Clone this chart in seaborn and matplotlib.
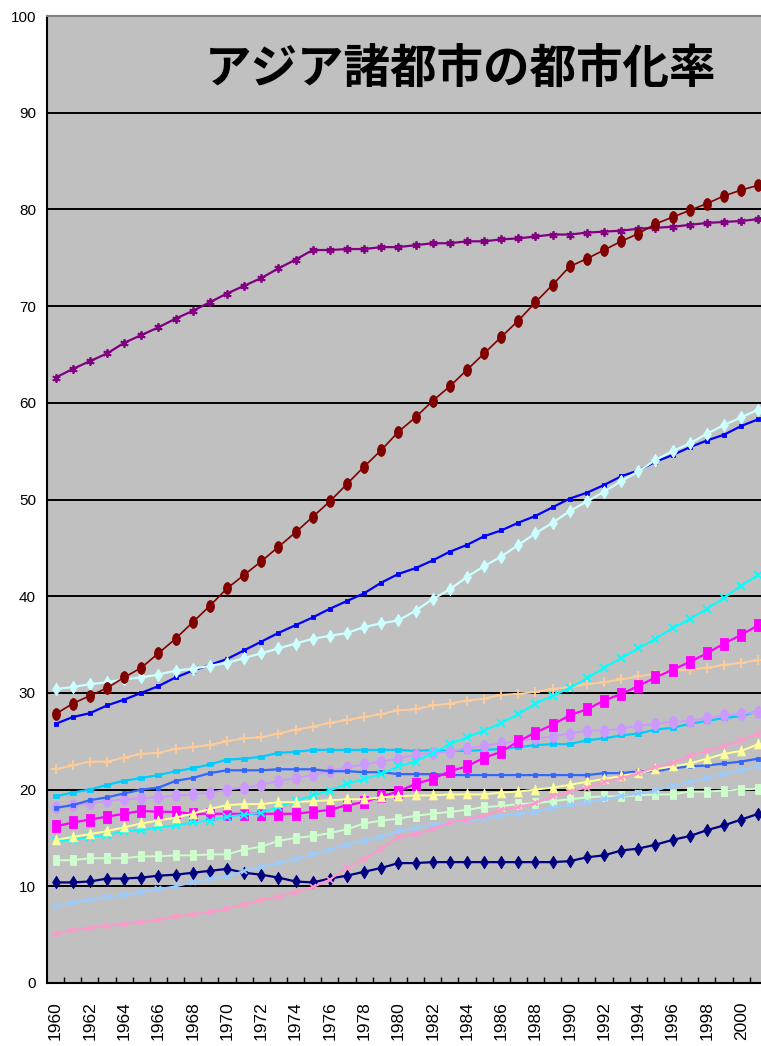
import matplotlib
matplotlib.use("Agg")
import matplotlib.pyplot as plt
from matplotlib.path import Path
from matplotlib.ticker import FixedLocator
import seaborn as sns

# ---- data: urbanisation rate (%) 1960-2001 ----
years = list(range(1960, 2002))

purple = [62.6, 63.5, 64.3, 65.1, 66.2, 67.0, 67.8, 68.7, 69.5, 70.4, 71.3, 72.1, 72.9, 73.9,
          74.8, 75.8, 75.8, 75.9, 75.9, 76.1, 76.1, 76.3, 76.5, 76.5, 76.7, 76.7, 76.9, 77.0,
          77.2, 77.4, 77.4, 77.6, 77.7, 77.8, 78.0, 78.1, 78.2, 78.4, 78.6, 78.7, 78.8, 79.0]
darkred = [27.8, 28.9, 29.7, 30.5, 31.6, 32.6, 34.1, 35.6, 37.3, 39.0, 40.8, 42.2, 43.6, 45.1,
           46.6, 48.2, 49.8, 51.6, 53.4, 55.1, 57.0, 58.5, 60.2, 61.7, 63.4, 65.1, 66.8, 68.5,
           70.4, 72.2, 74.1, 74.9, 75.8, 76.7, 77.5, 78.5, 79.2, 79.9, 80.6, 81.4, 82.0, 82.5]
blue = [26.8, 27.5, 27.9, 28.7, 29.3, 30.0, 30.7, 31.6, 32.3, 32.9, 33.5, 34.4, 35.3, 36.2,
        37.0, 37.8, 38.7, 39.5, 40.3, 41.4, 42.3, 42.9, 43.7, 44.6, 45.3, 46.2, 46.8, 47.6,
        48.3, 49.2, 50.1, 50.7, 51.5, 52.4, 53.0, 53.9, 54.6, 55.4, 56.1, 56.7, 57.6, 58.3]
lightcyan = [30.4, 30.6, 30.9, 31.1, 31.4, 31.6, 31.9, 32.3, 32.5, 32.8, 33.1, 33.6, 34.1, 34.6,
             35.1, 35.6, 35.9, 36.2, 36.8, 37.2, 37.5, 38.5, 39.7, 40.7, 42.0, 43.1, 44.1, 45.3,
             46.5, 47.6, 48.8, 49.8, 50.8, 51.9, 52.9, 54.1, 55.0, 55.8, 56.8, 57.7, 58.5, 59.3]
cyan = [14.7, 14.8, 15.1, 15.3, 15.7, 15.8, 16.1, 16.3, 16.6, 16.8, 17.2, 17.4, 17.6, 18.2,
        18.8, 19.4, 19.9, 20.6, 21.1, 21.6, 22.4, 22.9, 23.8, 24.7, 25.4, 26.1, 26.9, 27.8,
        28.9, 29.7, 30.5, 31.5, 32.6, 33.6, 34.6, 35.6, 36.7, 37.6, 38.7, 39.8, 41.1, 42.2]
magenta = [16.2, 16.6, 16.9, 17.2, 17.5, 17.8, 17.7, 17.7, 17.5, 17.5, 17.5, 17.5, 17.5, 17.5,
           17.5, 17.7, 17.9, 18.4, 18.7, 19.3, 19.8, 20.6, 21.1, 21.9, 22.4, 23.3, 23.9, 25.0,
           25.9, 26.7, 27.7, 28.3, 29.2, 29.9, 30.7, 31.6, 32.4, 33.2, 34.1, 35.1, 36.0, 37.0]
orange = [22.1, 22.5, 22.9, 22.9, 23.3, 23.7, 23.8, 24.2, 24.4, 24.6, 25.0, 25.3, 25.4, 25.8,
          26.2, 26.5, 26.9, 27.2, 27.5, 27.8, 28.2, 28.3, 28.7, 28.9, 29.2, 29.4, 29.8, 29.9,
          30.1, 30.4, 30.6, 30.9, 31.1, 31.4, 31.7, 32.0, 32.3, 32.4, 32.6, 32.9, 33.1, 33.4]
skyblue = [19.3, 19.7, 20.0, 20.5, 20.9, 21.2, 21.5, 21.9, 22.2, 22.6, 23.1, 23.2, 23.4, 23.8,
           23.9, 24.1, 24.1, 24.1, 24.1, 24.1, 24.1, 24.0, 24.1, 24.0, 24.0, 24.1, 24.2, 24.4,
           24.6, 24.7, 24.7, 25.1, 25.3, 25.6, 25.8, 26.2, 26.4, 26.8, 27.1, 27.4, 27.6, 28.1]
lavender = [18.2, 18.4, 18.6, 18.8, 19.0, 19.1, 19.2, 19.4, 19.5, 19.7, 20.0, 20.2, 20.5, 20.9,
            21.2, 21.5, 21.9, 22.3, 22.6, 22.9, 23.2, 23.6, 23.8, 23.9, 24.3, 24.5, 24.8, 25.0,
            25.3, 25.5, 25.8, 26.1, 26.1, 26.3, 26.6, 26.8, 27.0, 27.1, 27.4, 27.7, 27.8, 28.0]
royal = [18.1, 18.4, 18.9, 19.2, 19.6, 20.0, 20.2, 20.9, 21.2, 21.7, 22.0, 22.0, 22.0, 22.1,
         22.1, 22.1, 21.9, 21.9, 21.8, 21.8, 21.6, 21.6, 21.6, 21.5, 21.5, 21.5, 21.5, 21.5,
         21.5, 21.5, 21.5, 21.5, 21.7, 21.7, 21.9, 21.9, 22.2, 22.4, 22.5, 22.7, 22.9, 23.2]
yellow = [14.8, 15.1, 15.4, 15.7, 16.1, 16.5, 16.8, 17.1, 17.5, 18.0, 18.4, 18.5, 18.5, 18.7,
          18.7, 18.8, 18.9, 19.0, 19.0, 19.2, 19.3, 19.4, 19.4, 19.5, 19.5, 19.5, 19.7, 19.8,
          20.0, 20.2, 20.5, 20.8, 21.1, 21.4, 21.7, 22.1, 22.4, 22.7, 23.2, 23.7, 24.0, 24.7]
green = [12.7, 12.7, 12.9, 12.9, 12.9, 13.1, 13.1, 13.2, 13.2, 13.3, 13.3, 13.8, 14.1, 14.7,
         15.0, 15.2, 15.5, 15.9, 16.5, 16.8, 17.0, 17.3, 17.5, 17.7, 17.9, 18.2, 18.3, 18.5,
         18.6, 18.8, 19.0, 19.2, 19.3, 19.3, 19.4, 19.5, 19.5, 19.8, 19.8, 19.9, 20.0, 20.1]
lightblue = [8.0, 8.3, 8.6, 8.9, 9.1, 9.4, 9.7, 10.0, 10.4, 10.8, 11.0, 11.6, 12.0, 12.4,
             12.8, 13.3, 13.8, 14.3, 14.7, 15.1, 15.7, 16.0, 16.3, 16.6, 16.8, 17.0, 17.3, 17.5,
             17.7, 18.1, 18.4, 18.7, 19.0, 19.3, 19.6, 19.9, 20.4, 20.8, 21.2, 21.6, 22.0, 22.4]
pink = [5.1, 5.5, 5.7, 5.9, 6.1, 6.3, 6.5, 6.9, 7.1, 7.3, 7.7, 8.1, 8.6, 8.9,
        9.4, 9.9, 10.7, 11.9, 12.8, 13.9, 15.1, 15.4, 15.9, 16.6, 16.9, 17.3, 17.9, 18.2,
        18.6, 19.3, 19.8, 20.2, 20.8, 21.2, 21.7, 22.3, 22.7, 23.5, 24.0, 24.5, 25.1, 25.8]
navy = [10.4, 10.4, 10.5, 10.8, 10.8, 10.9, 11.1, 11.2, 11.4, 11.6, 11.8, 11.4, 11.2, 10.9,
        10.5, 10.4, 10.8, 11.1, 11.5, 11.9, 12.4, 12.4, 12.5, 12.5, 12.5, 12.5, 12.5, 12.5,
        12.5, 12.5, 12.6, 13.0, 13.2, 13.7, 13.9, 14.3, 14.8, 15.2, 15.8, 16.3, 16.9, 17.5]

title = "アジア諸都市の都市化率"
y_ticks = list(range(0, 101, 10))
x_labels = list(range(1960, 2001, 2))

# ---- marker shapes (slightly tall, like the spreadsheet markers) ----
def shape(verts):
    return Path(verts, closed=True)

tall_ellipse = Path(Path.unit_circle().vertices * [1.0, 1.5], Path.unit_circle().codes)
tall_square = shape([[-0.5, -0.75], [0.5, -0.75], [0.5, 0.75], [-0.5, 0.75], [-0.5, -0.75]])
flat_square = shape([[-0.6, -0.4], [0.6, -0.4], [0.6, 0.4], [-0.6, 0.4], [-0.6, -0.4]])
small_square = shape([[-0.5, -0.5], [0.5, -0.5], [0.5, 0.5], [-0.5, 0.5], [-0.5, -0.5]])
tall_diamond = shape([[0, -0.8], [0.5, 0], [0, 0.8], [-0.5, 0], [0, -0.8]])
tall_triangle = shape([[0, 0.7], [0.5, -0.55], [-0.5, -0.55], [0, 0.7]])
asterisk = (6, 2, 0)

# (values, colour, marker, marker size pt, line width, filled marker)
series = [
    (purple,    "#800080", asterisk,      6.0, 1.6, False),
    (blue,      "#0000FF", small_square,  3.2, 1.6, True),
    (lightcyan, "#CCFFFF", tall_diamond,  9.0, 1.6, True),
    (orange,    "#FFCC99", "+",           6.5, 1.4, False),
    (skyblue,   "#00CCFF", flat_square,   4.5, 1.6, True),
    (lavender,  "#CC99FF", tall_ellipse,  8.5, 1.4, True),
    (royal,     "#3366FF", small_square,  3.2, 1.6, True),
    (magenta,   "#FF00FF", tall_square,   8.5, 1.6, True),
    (cyan,      "#00FFFF", "x",           5.5, 1.4, False),
    (yellow,    "#FFFF99", tall_triangle, 8.0, 1.4, True),
    (green,     "#CCFFCC", tall_square,   7.5, 1.4, True),
    (navy,      "#000080", tall_diamond,  9.0, 1.6, True),
    (lightblue, "#99CCFF", "x",           5.0, 1.4, False),
    (pink,      "#FF99CC", "x",           5.0, 1.4, False),
    (darkred,   "#800000", tall_ellipse,  8.5, 1.2, True),
]

plt.rcParams["font.family"] = ["Liberation Sans", "DejaVu Sans"]

fig = plt.figure(figsize=(7.61, 10.46), dpi=100, facecolor="white")
ax = fig.add_axes([47 / 761, 63 / 1046, 714 / 761, 967 / 1046])
ax.set_facecolor("#C0C0C0")

for vals, col, mk, ms, lw, filled in series:
    sns.lineplot(
        x=years, y=vals, ax=ax, color=col, linewidth=lw,
        marker=mk, markersize=ms,
        markerfacecolor=col if filled else "none",
        markeredgecolor=col,
        markeredgewidth=0.6 if filled else 1.3,
        errorbar=None, estimator=None, sort=False, zorder=3,
    )

ax.set_xlim(1959.5, 1959.5 + 714 / 17.14)
ax.set_ylim(0, 100)

# horizontal grid
ax.set_yticks(y_ticks)
ax.set_yticklabels([str(v) for v in y_ticks], family=["Liberation Sans Narrow", "Liberation Sans"],
                   fontsize=11)
ax.yaxis.grid(True, color="black", linewidth=1.4)
ax.xaxis.grid(False)
ax.set_axisbelow(True)
ax.tick_params(axis="y", length=0, pad=8)

# year labels every two years, inward tick marks between categories
ax.xaxis.set_major_locator(FixedLocator(x_labels))
ax.set_xticklabels([str(v) for v in x_labels], rotation=90, fontsize=12.5)
ax.xaxis.set_minor_locator(FixedLocator([y + 0.5 for y in years[:-1]]))
ax.tick_params(axis="x", which="major", length=0, pad=13)
ax.tick_params(axis="x", which="minor", direction="in", length=4.5, width=1.0, color="black")

ax.set_xlabel("")
ax.set_ylabel("")
for side in ("left", "bottom"):
    ax.spines[side].set_color("black")
    ax.spines[side].set_linewidth(1.5)
ax.spines["top"].set_color("#808080")
ax.spines["top"].set_linewidth(1.5)
ax.spines["right"].set_visible(False)

fig.text(461 / 761, 1 - 70 / 1046, title, ha="center", va="center",
         fontsize=33.5, fontweight="bold", family=["Noto Sans CJK JP", "DejaVu Sans"])

fig.savefig("out.png", dpi=100, facecolor="white")
